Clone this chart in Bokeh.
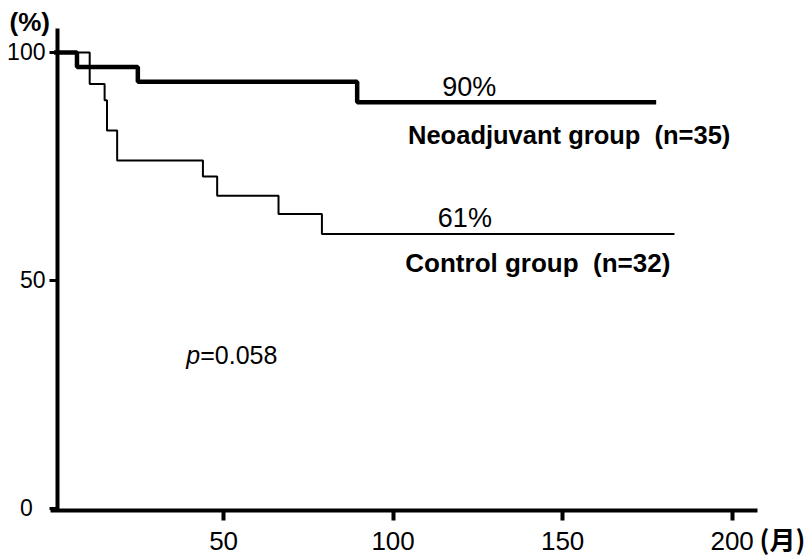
from bokeh.plotting import figure
from bokeh.models import Range1d, FixedTicker
from bokeh.core.properties import value
from bokeh.embed import file_html
from bokeh.resources import INLINE

# ---- data ----
neo_months = [0, 6.75, 24.7, 89.4, 177.6]
neo_surv = [100, 96.8, 93.6, 89.1, 89.1]

ctrl_months = [0, 10.5, 14.9, 15.6, 18.6, 43.9, 48.1, 66.2, 79.0, 183.0]
ctrl_surv = [100, 93.1, 89.5, 82.9, 76.3, 72.8, 68.6, 64.6, 60.2, 60.2]

x_ticks = [50, 100, 150, 200]
y_ticks = [0, 50, 100]

neo_label = "Neoadjuvant group\u00a0 (n=35)"
ctrl_label = "Control group\u00a0 (n=32)"
neo_pct = "90%"
ctrl_pct = "61%"
p_value = "=0.058"
x_unit = "(月)"
y_unit = "(%)"

FONT = "Liberation Sans"

W, H = 810, 557
# the plotting frame covers the whole canvas; axes are pinned inside it
p = figure(width=W, height=H, output_backend="svg", toolbar_location=None,
           x_range=Range1d(-15.81, 223.12), y_range=Range1d(-10.75, 111.40),
           min_border=0, min_border_left=0, min_border_right=0,
           min_border_top=0, min_border_bottom=0)
p.outline_line_color = None
p.grid.visible = False
p.background_fill_color = "white"
p.border_fill_color = "white"

for ax in (p.xaxis, p.yaxis):
    ax.axis_line_width = 4
    ax.axis_line_color = "black"
    ax.minor_tick_line_color = None
    ax.major_tick_in = 0
    ax.major_tick_line_color = "black"
    ax.major_label_text_font = FONT
    ax.major_label_text_color = "black"

p.xaxis.fixed_location = -0.44
p.xaxis.bounds = (-1.06, 207.5)
p.xaxis.ticker = FixedTicker(ticks=x_ticks)
p.xaxis.major_tick_out = 10
p.xaxis.major_tick_line_width = 4
p.xaxis.major_label_text_font_size = "26px"
p.xaxis.major_label_standoff = 12

p.yaxis.fixed_location = 1
p.yaxis.bounds = (-0.7, 105.3)
p.yaxis.ticker = FixedTicker(ticks=y_ticks)
p.yaxis.major_tick_out = 8
p.yaxis.major_tick_line_width = 3
p.yaxis.major_label_text_font_size = "23px"
p.yaxis.major_label_standoff = 4
p.yaxis.major_label_overrides = {0: "0\u2007"}

# curves
p.step(ctrl_months, ctrl_surv, mode="after", line_color="black", line_width=2)
p.step(neo_months, neo_surv, mode="after", line_color="black", line_width=4.5)

# texts
p.text(x=[114.5], y=[92.5], text=[neo_pct], text_font=value(FONT),
       text_font_size="27px", text_baseline="alphabetic", text_color="black")
p.text(x=[113.2], y=[63.8], text=[ctrl_pct], text_font=value(FONT),
       text_font_size="27px", text_baseline="alphabetic", text_color="black")
p.text(x=[104.4], y=[81.8], text=[neo_label], text_font=value(FONT),
       text_font_size="25.5px", text_font_style="bold", text_baseline="alphabetic",
       text_color="black")
p.text(x=[103.6], y=[53.8], text=[ctrl_label], text_font=value(FONT),
       text_font_size="26px", text_font_style="bold", text_baseline="alphabetic",
       text_color="black")
p.text(x=[39.0], y=[33.6], text=["p"], text_font=value(FONT),
       text_font_size="25px", text_font_style="italic", text_baseline="alphabetic",
       text_color="black")
p.text(x=[43.1], y=[33.6], text=[p_value], text_font=value(FONT),
       text_font_size="25px", text_baseline="alphabetic", text_color="black")
p.text(x=[-13.16], y=[106.7], text=[y_unit], text_font=value(FONT),
       text_font_size="26px", text_font_style="bold", text_baseline="alphabetic",
       text_color="black")
p.text(x=[208.1], y=[-6.5], text=[x_unit], text_font=value("Noto Sans CJK JP"),
       text_font_size="26px", text_font_style="bold", text_baseline="alphabetic",
       text_color="black")

open("out.html", "w").write(file_html(p, INLINE))
